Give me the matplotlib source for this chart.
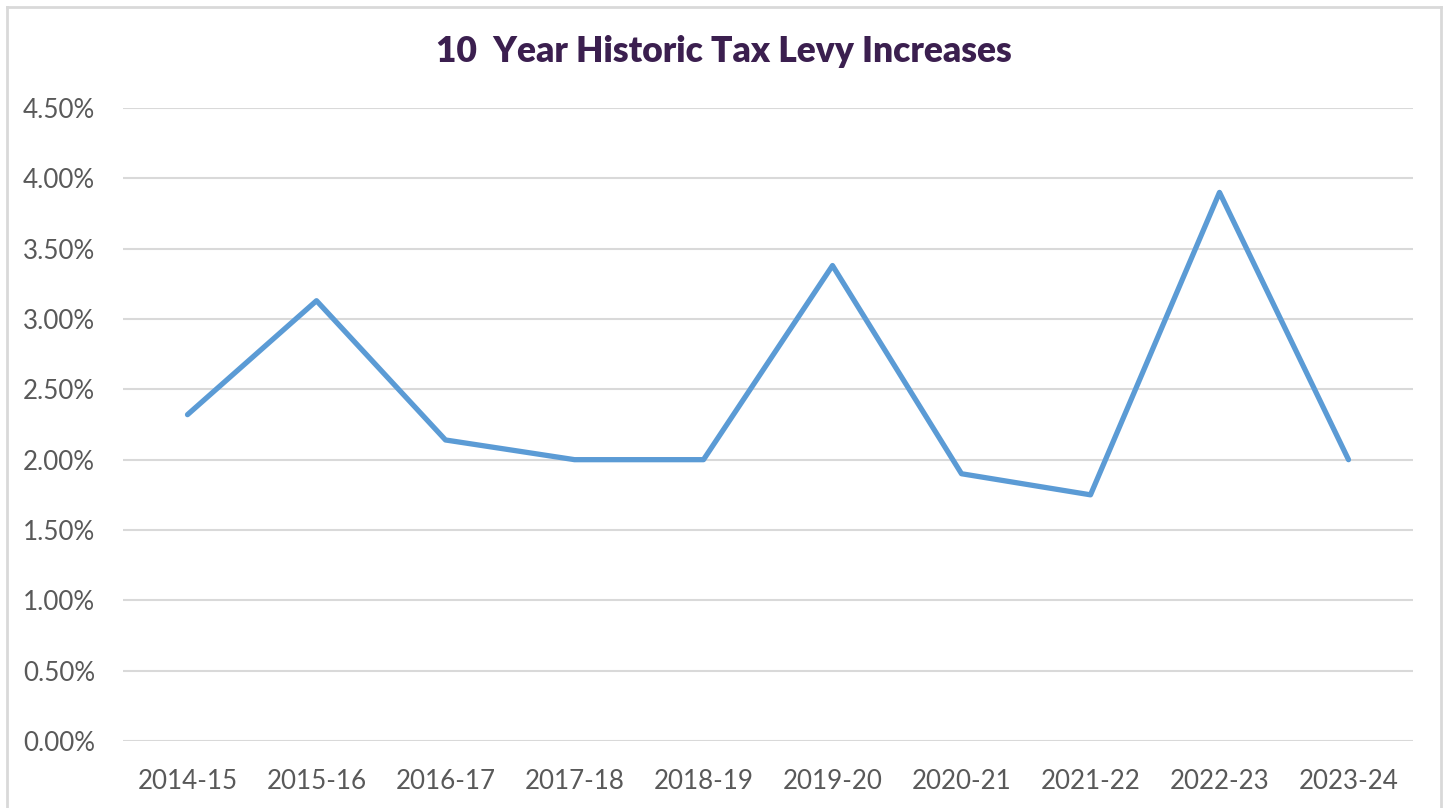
import matplotlib
matplotlib.use("Agg")
import matplotlib.pyplot as plt
from matplotlib.lines import Line2D
from matplotlib.ticker import FuncFormatter

years = ["2014-15", "2015-16", "2016-17", "2017-18", "2018-19",
         "2019-20", "2020-21", "2021-22", "2022-23", "2023-24"]
levy_increase = [2.32, 3.13, 2.14, 2.00, 2.00, 3.38, 1.90, 1.75, 3.90, 2.00]
y_ticks = [0.0, 0.5, 1.0, 1.5, 2.0, 2.5, 3.0, 3.5, 4.0, 4.5]

plt.rcParams["font.family"] = ["Lato", "DejaVu Sans"]

W, H = 1448, 808
fig = plt.figure(figsize=(W / 100, H / 100), dpi=100)
ax = fig.add_axes([123 / W, 1 - 741 / H, (1413 - 123) / W, (741 - 108) / H])

x = list(range(len(years)))
ax.plot(x, levy_increase, color="#5b9bd5", lw=3.8, solid_joinstyle="round",
        solid_capstyle="round", zorder=3)

ax.set_xlim(-0.5, len(years) - 0.5)
ax.set_ylim(0, 4.5)
ax.set_yticks(y_ticks)
ax.yaxis.set_major_formatter(FuncFormatter(lambda v, _: f"{v:.2f}%"))
ax.set_xticks(x)
ax.set_xticklabels(years)
ax.tick_params(axis="both", length=0, labelsize=18.7, labelcolor="#595959")
ax.tick_params(axis="y", pad=20)
ax.tick_params(axis="x", pad=20)
ax.grid(axis="y", color="#d9d9d9", lw=1.5)
ax.set_axisbelow(True)
for s in ax.spines.values():
    s.set_visible(False)

fig.text(0.5, 1 - 52 / H, "10  Year Historic Tax Levy Increases", ha="center",
         va="center", fontsize=25.5, fontweight="heavy", color="#3b1f4f")

# chart border (left, top, right)
bc = "#d9d9d9"
fig.add_artist(Line2D([7 / W, 7 / W], [0, 1 - 7 / H], transform=fig.transFigure, color=bc, lw=2))
fig.add_artist(Line2D([7 / W, 1441 / W], [1 - 7 / H, 1 - 7 / H], transform=fig.transFigure, color=bc, lw=2))
fig.add_artist(Line2D([1441 / W, 1441 / W], [0, 1 - 7 / H], transform=fig.transFigure, color=bc, lw=2))

fig.savefig("out.png", dpi=100)
